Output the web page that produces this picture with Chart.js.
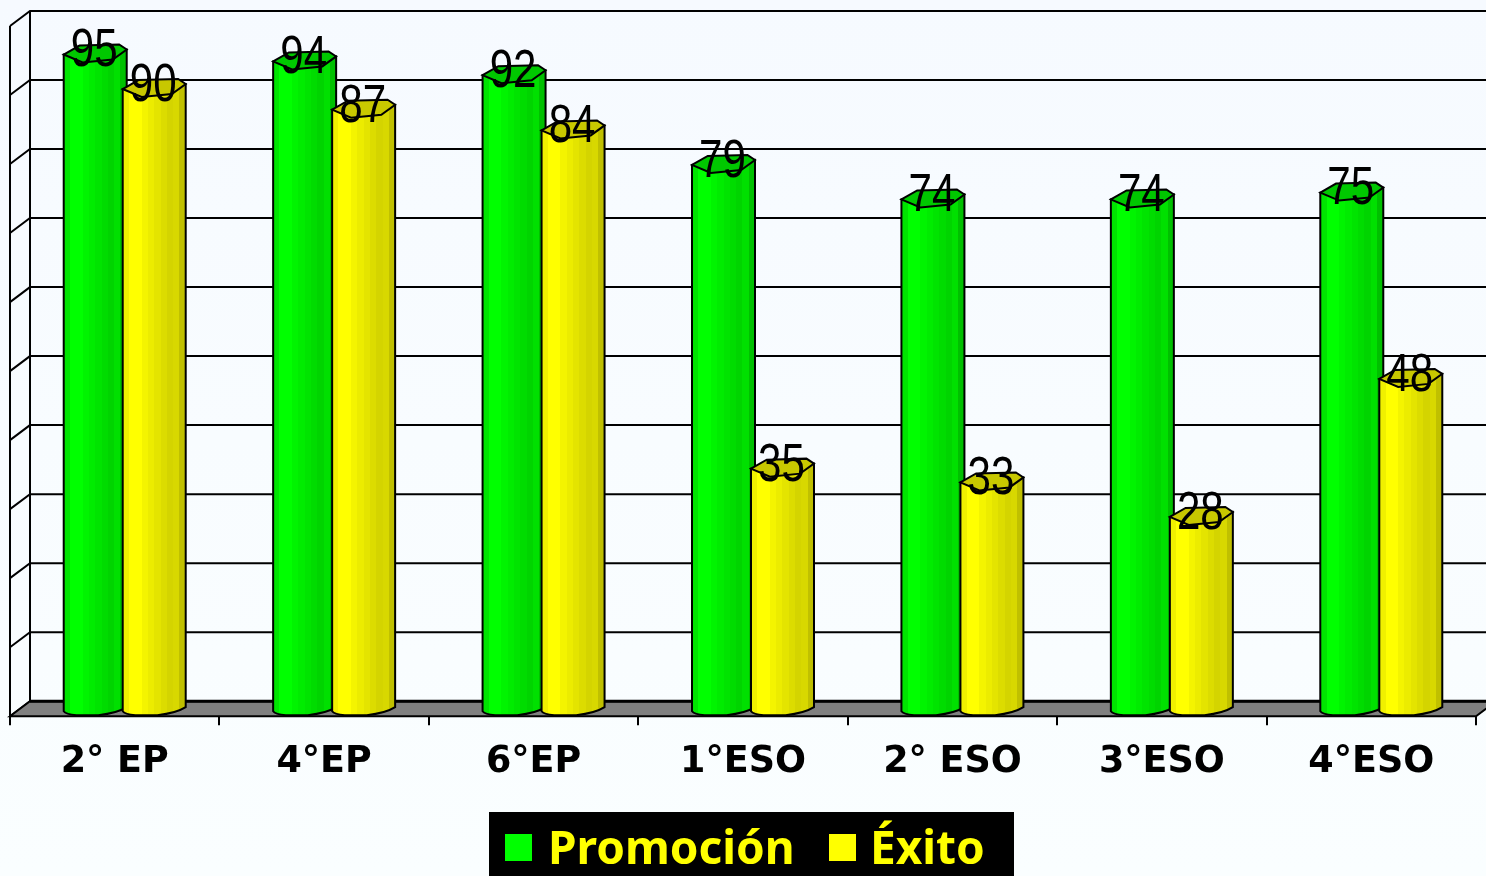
<!DOCTYPE html>
<html lang="es">
<head>
<meta charset="utf-8">
<title>Promoción y Éxito</title>
<script src="https://cdn.jsdelivr.net/npm/chart.js@4/dist/chart.umd.min.js"></script>
<style>
  html, body { margin: 0; padding: 0; overflow: hidden; background: linear-gradient(#f6faff, #fafeff); }
  #grafico { display: block; }
</style>
</head>
<body>
<canvas id="grafico" width="1486" height="876"></canvas>
<script>
// Datos
const cursos = ["2° EP", "4°EP", "6°EP", "1°ESO", "2° ESO", "3°ESO", "4°ESO"];
const promocion = [95, 94, 92, 79, 74, 74, 75];
const exito = [90, 87, 84, 35, 33, 28, 48];

// Profundidad del efecto 3D
const fondoX = 20, fondoY = 15;
const barraX = 10, barraY = 7, barraExtra = 4;

// Pared del fondo, suelo gris y lineas de la escala
const paredes = {
    id: 'paredes',
    beforeDatasetsDraw(chart) {
        const { ctx, chartArea: a, scales: { y } } = chart;
        ctx.save();
        ctx.strokeStyle = '#000';
        ctx.lineWidth = 2;
        y.ticks.forEach(t => {
            const py = y.getPixelForValue(t.value);
            ctx.beginPath();
            ctx.moveTo(a.left, py);
            ctx.lineTo(a.left + fondoX, py - fondoY);
            ctx.lineTo(chart.width, py - fondoY);
            ctx.stroke();
        });
        // verticales de la pared lateral
        ctx.beginPath();
        ctx.moveTo(a.left, a.bottom);
        ctx.lineTo(a.left, a.top);
        ctx.moveTo(a.left + fondoX, a.bottom - fondoY);
        ctx.lineTo(a.left + fondoX, a.top - fondoY);
        ctx.stroke();
        // suelo
        ctx.beginPath();
        ctx.moveTo(a.left, a.bottom);
        ctx.lineTo(a.left + fondoX, a.bottom - fondoY);
        ctx.lineTo(a.right + fondoX, a.bottom - fondoY);
        ctx.lineTo(a.right, a.bottom);
        ctx.closePath();
        ctx.fillStyle = '#808080';
        ctx.fill();
        ctx.stroke();
        ctx.lineWidth = 3;
        ctx.beginPath();
        ctx.moveTo(a.left + fondoX, a.bottom - fondoY);
        ctx.lineTo(a.right + fondoX, a.bottom - fondoY);
        ctx.stroke();
        ctx.restore();
    }
};

// Bandas de color de cada cilindro, de izquierda a derecha
function gradienteCilindro(ctx, x0, x1, tonos) {
    const g = ctx.createLinearGradient(x0, 0, x1, 0);
    tonos.forEach((c, i) => {
        g.addColorStop(i / tonos.length, c);
        g.addColorStop((i + 1) / tonos.length, c);
    });
    return g;
}

function dibujarCilindro(ctx, barra, tonos, tapa) {
    const w = barra.width + barraExtra;
    const x0 = barra.x + barraX - w / 2;
    const x1 = x0 + w;
    const top = barra.y - barraY;
    const bot = barra.base - barraY;
    ctx.lineWidth = 2;
    ctx.strokeStyle = '#000';
    // cuerpo
    ctx.beginPath();
    ctx.moveTo(x0, top + 1);
    ctx.lineTo(x0, bot + 2);
    ctx.quadraticCurveTo(x0 + 2, bot + 5, x0 + w * 0.2, bot + 6);
    ctx.lineTo(x0 + w * 0.55, bot + 6);
    ctx.quadraticCurveTo(x0 + w * 0.85, bot + 4, x1, bot - 2);
    ctx.lineTo(x1, top - 4);
    ctx.closePath();
    ctx.fillStyle = gradienteCilindro(ctx, x0, x1, tonos);
    ctx.fill();
    ctx.stroke();
    // tapa
    ctx.beginPath();
    ctx.moveTo(x0, top + 1);
    ctx.lineTo(x0 + w * 0.25, top - 8);
    ctx.lineTo(x0 + w * 0.88, top - 9);
    ctx.lineTo(x1, top - 4);
    ctx.lineTo(x0 + w * 0.78, top + 6);
    ctx.lineTo(x0 + w * 0.3, top + 9);
    ctx.closePath();
    ctx.fillStyle = tapa;
    ctx.fill();
    ctx.stroke();
}

const tonosVerde = ['#00e400', '#00ff00', '#00ff00', '#00f400', '#00ec00', '#00e400', '#00dc00', '#00d400', '#00e000', '#00c000'];
const tonosAmarillo = ['#f0f000', '#ffff00', '#ffff00', '#f4f400', '#ecec00', '#e4e400', '#dcdc00', '#d4d400', '#d8d800', '#c0c000'];

const cilindros = {
    id: 'cilindros',
    // se cancela la barra normal, se dibuja el cilindro encima
    beforeDatasetDraw() { return false; },
    afterDatasetsDraw(chart) {
        const { ctx } = chart;
        ctx.save();
        const estilos = [[tonosVerde, '#00c800'], [tonosAmarillo, '#c8c800']];
        chart.data.datasets.forEach((ds, i) => {
            chart.getDatasetMeta(i).data.forEach(b => dibujarCilindro(ctx, b, estilos[i][0], estilos[i][1]));
        });
        // valores encima de cada barra, letra estrecha
        ctx.fillStyle = '#000';
        ctx.font = '54px "Liberation Sans"';
        ctx.textAlign = 'center';
        ctx.textBaseline = 'middle';
        chart.data.datasets.forEach((ds, i) => {
            chart.getDatasetMeta(i).data.forEach((b, j) => {
                ctx.save();
                ctx.translate(b.x + barraX - 1, b.y - barraY - 2);
                ctx.scale(0.78, 1);
                ctx.fillText(ds.data[j], 0, 0);
                ctx.restore();
            });
        });
        ctx.restore();
    }
};

// Leyenda sobre fondo negro, cortada por el borde inferior como en el original
const posLeyenda = [[505, 548], [829, 870]];
const leyenda = {
    id: 'leyenda',
    afterDraw(chart) {
        const { ctx } = chart;
        ctx.save();
        ctx.fillStyle = '#000';
        ctx.fillRect(489, 812, 525, 64);
        ctx.font = 'bold 46px "Noto Sans"';
        ctx.textBaseline = 'alphabetic';
        chart.data.datasets.forEach((ds, i) => {
            ctx.fillStyle = ds.backgroundColor;
            ctx.fillRect(posLeyenda[i][0], 834, 27, 27);
            ctx.fillStyle = '#ffff00';
            ctx.fillText(ds.label, posLeyenda[i][1], 864);
        });
        ctx.restore();
    }
};

new Chart(document.getElementById('grafico'), {
    type: 'bar',
    data: {
        labels: cursos,
        datasets: [
            { label: 'Promoción', data: promocion, backgroundColor: '#00ff00' },
            { label: 'Éxito', data: exito, backgroundColor: '#ffff00' }
        ]
    },
    options: {
        responsive: false,
        animation: false,
        layout: { padding: { left: 10, right: 10, top: 26, bottom: 77 } },
        datasets: { bar: { categoryPercentage: 0.5634, barPercentage: 1 } },
        scales: {
            x: {
                grid: { drawOnChartArea: false, color: '#000', lineWidth: 2, tickLength: 9, offset: true },
                border: { color: '#000', width: 2 },
                ticks: { color: '#000', font: { family: '"DejaVu Sans"', weight: 'bold', size: 36.5 }, padding: 15, maxRotation: 0, autoSkip: false }
            },
            y: { display: false, min: 0, max: 100, ticks: { stepSize: 10 } }
        },
        plugins: {
            legend: { display: false },
            tooltip: { enabled: false }
        }
    },
    plugins: [paredes, cilindros, leyenda]
});
</script>
</body>
</html>
